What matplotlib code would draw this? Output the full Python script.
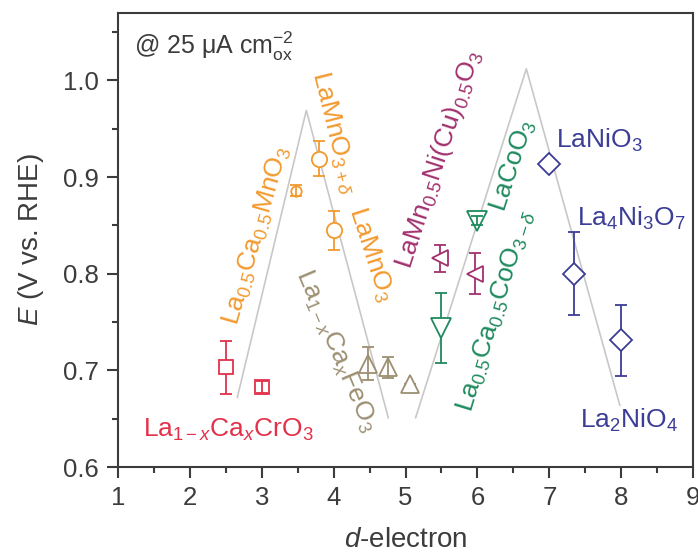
import numpy as np
import matplotlib.pyplot as plt

plt.rcParams['font.family'] = ['Liberation Sans', 'DejaVu Sans']
plt.rcParams['mathtext.fontset'] = 'custom'
plt.rcParams['mathtext.rm'] = 'Liberation Sans'
plt.rcParams['mathtext.it'] = 'Liberation Sans:italic'
plt.rcParams['mathtext.bf'] = 'Liberation Sans:bold'

# volcano guide lines
volcano1_x = [2.66, 3.62, 4.76]
volcano1_y = [0.672, 0.969, 0.651]
volcano2_x = [5.14, 6.68, 7.98]
volcano2_y = [0.651, 1.012, 0.664]

# data groups: d-electron, E, error, error bar drawn over the marker?
cr_x = [2.5, 3.0]
cr_y = [0.703, 0.683]
cr_err = [0.027, 0.006]
cr_top = [False, True]

mnca_x = [3.47]
mnca_y = [0.886]
mnca_err = [0.006]
mnca_top = [True]

mn_x = [3.79, 4.0]
mn_y = [0.919, 0.845]
mn_err = [0.018, 0.02]
mn_top = [False, False]

fe_x = [4.48, 4.76, 5.06]
fe_y = [0.707, 0.703, 0.686]
fe_err = [0.017, 0.011, 0.0]
fe_top = [True, True, False]

co_x = [5.5, 6.0]
co_y = [0.744, 0.855]
co_err = [0.036, 0.005]
co_top = [False, True]

mnni_x = [5.48, 5.97]
mnni_y = [0.816, 0.80]
mnni_err = [0.014, 0.021]
mnni_top = [False, False]

ni_x = [7.0, 7.34, 8.0]
ni_y = [0.914, 0.80, 0.731]
ni_err = [0.005, 0.043, 0.037]
ni_top = [False, False, False]

c_red = '#e3314a'
c_orange = '#f29a2e'
c_tan = '#9c8f72'
c_green = '#1f8a5e'
c_mag = '#a2306e'
c_blue = '#3b3d96'
c_axis = '#3c3c3c'

fig = plt.figure(figsize=(6.98, 5.54), dpi=100)
ax = fig.add_axes([0.169, 0.157, 0.824, 0.82])

ax.plot(volcano1_x, volcano1_y, color='#c8c8c8', lw=1.2, zorder=1)
ax.plot(volcano2_x, volcano2_y, color='#c8c8c8', lw=1.2, zorder=1)

def group(x, y, err, top, color, marker, ms):
    x, y, err, top = map(np.asarray, (x, y, err, top))
    ax.plot(x, y, ls='none', marker=marker, mfc='white', mec=color, ms=ms,
            mew=1.3, zorder=3)
    for sel, z in ((~top, 2), (top, 4)):
        if sel.any():
            ax.errorbar(x[sel], y[sel], yerr=err[sel], fmt='none', ecolor=color,
                        elinewidth=1.3, capsize=4, capthick=1.3, zorder=z)

group(cr_x, cr_y, cr_err, cr_top, c_red, 's', 10.5)
group(mnca_x, mnca_y, mnca_err, mnca_top, c_orange, 'o', 7.5)
group(mn_x, mn_y, mn_err, mn_top, c_orange, 'o', 11)
group(fe_x, fe_y, fe_err, fe_top, c_tan, '^', 13)
group(co_x, co_y, co_err, co_top, c_green, 'v', 15)
group(mnni_x, mnni_y, mnni_err, mnni_top, c_mag, '<', 12)
group(ni_x, ni_y, ni_err, ni_top, c_blue, 'D', 11)

fs = 19
ax.text(1.22, 1.035, r'@ 25 μA cm$_{\mathrm{ox}}^{-2}$', fontsize=18, color=c_axis,
        ha='left', va='center')
ax.text(2.53, 0.638, r'La$_{1-x}$Ca$_x$CrO$_3$', fontsize=fs, color=c_red,
        ha='center', va='center')
ax.text(2.93, 0.84, r'La$_{0.5}$Ca$_{0.5}$MnO$_3$', fontsize=fs, color=c_orange,
        rotation=74, rotation_mode='anchor', ha='center', va='center')
ax.text(4.0, 0.945, r'LaMnO$_{3+\delta}$', fontsize=fs, color=c_orange,
        rotation=-76, rotation_mode='anchor', ha='center', va='center')
ax.text(4.52, 0.82, r'LaMnO$_3$', fontsize=fs, color=c_orange,
        rotation=-72, rotation_mode='anchor', ha='center', va='center')
ax.text(4.03, 0.72, r'La$_{1-x}$Ca$_x$FeO$_3$', fontsize=fs, color=c_tan,
        rotation=-67, rotation_mode='anchor', ha='center', va='center')
ax.text(5.47, 0.918, r'LaMn$_{0.5}$Ni(Cu)$_{0.5}$O$_3$', fontsize=fs, color=c_mag,
        rotation=72, rotation_mode='anchor', ha='center', va='center')
ax.text(6.5, 0.912, r'LaCoO$_3$', fontsize=fs, color=c_green,
        rotation=72, rotation_mode='anchor', ha='center', va='center')
ax.text(6.26, 0.762, r'La$_{0.5}$Ca$_{0.5}$CoO$_{3-\delta}$', fontsize=fs, color=c_green,
        rotation=73, rotation_mode='anchor', ha='center', va='center')
ax.text(7.09, 0.938, r'LaNiO$_3$', fontsize=fs, color=c_blue, ha='left', va='center')
ax.text(7.39, 0.857, r'La$_4$Ni$_3$O$_7$', fontsize=fs, color=c_blue, ha='left', va='center')
ax.text(7.42, 0.648, r'La$_2$NiO$_4$', fontsize=fs, color=c_blue, ha='left', va='center')

ax.set_xlim(1, 9)
ax.set_ylim(0.6, 1.07)
ax.set_xticks(np.arange(1, 10, 1))
ax.set_xticks(np.arange(1.5, 9, 1), minor=True)
ax.set_yticks([0.6, 0.7, 0.8, 0.9, 1.0])
ax.set_yticklabels(['0.6', '0.7', '0.8', '0.9', '1.0'])
ax.set_yticks([0.65, 0.75, 0.85, 0.95, 1.05], minor=True)
ax.tick_params(which='major', direction='out', length=8, width=1.5, colors=c_axis,
               labelsize=18.5, pad=6, top=False, right=False)
ax.tick_params(which='minor', direction='out', length=4, width=1.5, colors=c_axis,
               top=False, right=False)
for s in ax.spines.values():
    s.set_linewidth(1.5)
    s.set_color(c_axis)

ax.set_xlabel(r'$d$-electron', fontsize=20, color=c_axis, labelpad=12)
ax.set_ylabel(r'$E$ (V vs. RHE)', fontsize=20, color=c_axis, labelpad=12)

fig.savefig('out.png', dpi=100)
